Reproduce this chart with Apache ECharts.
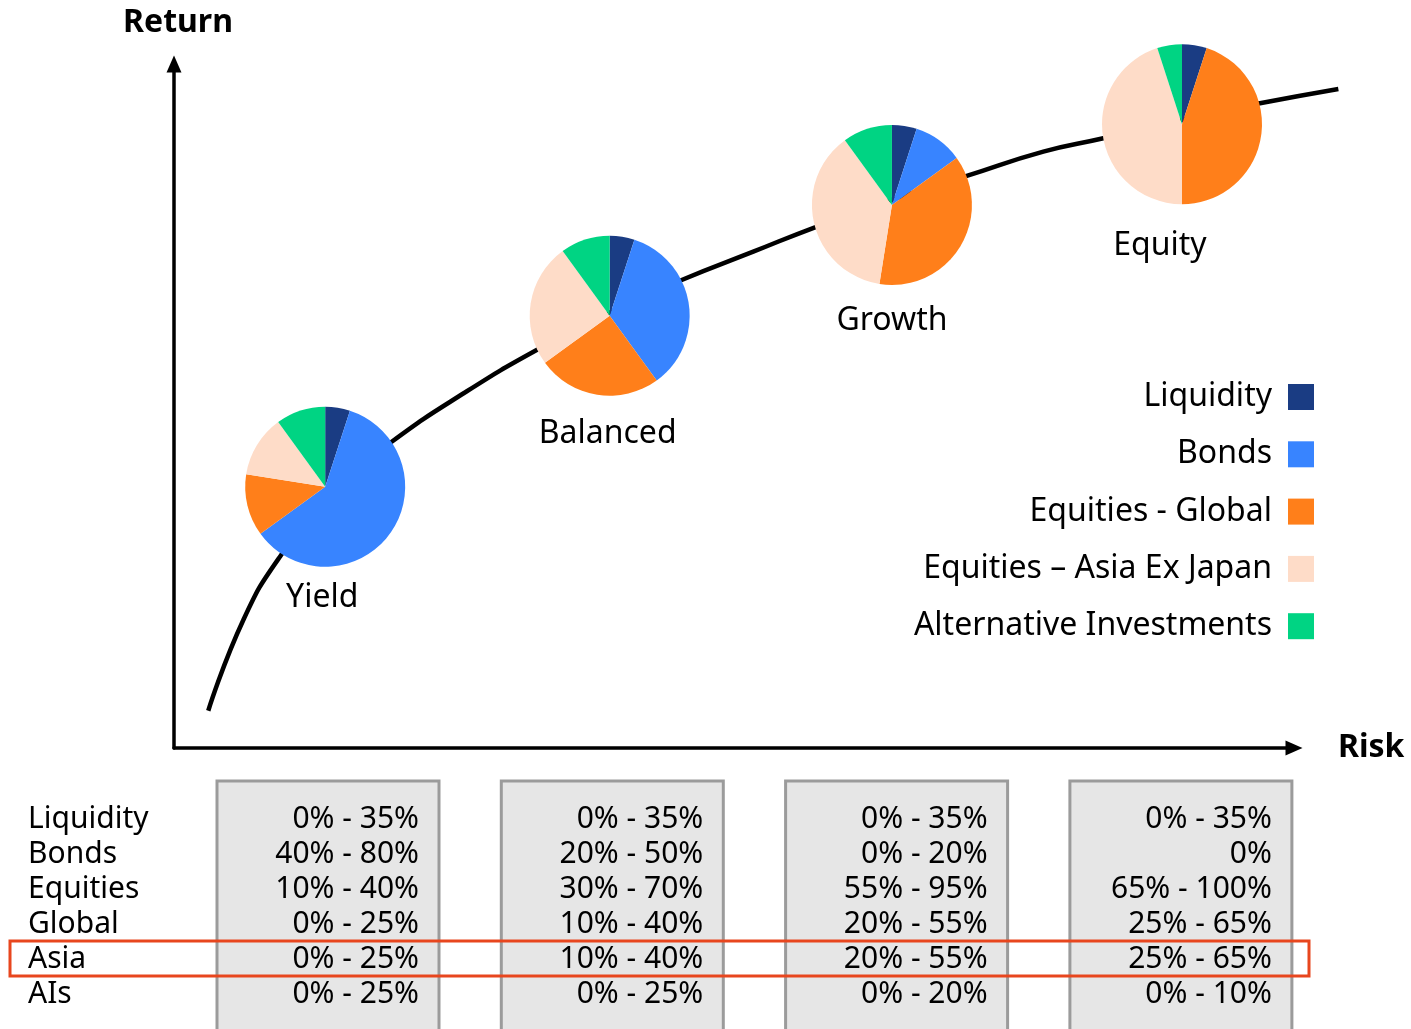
<!DOCTYPE html>
<html><head><meta charset="utf-8">
<script src="https://cdn.jsdelivr.net/npm/echarts@6/dist/echarts.min.js"></script>
<style>html,body{margin:0;padding:0;background:#fff}#c{width:1411px;height:1029px}</style>
</head><body><div id="c"></div>
<script>
// ---------- data ----------
const categories = ['Liquidity', 'Bonds', 'Equities - Global', 'Equities – Asia Ex Japan', 'Alternative Investments'];
const categoryColors = ['#1a3c83', '#3884ff', '#ff7f1a', '#fedcc8', '#00d483'];
const portfolios = ['Yield', 'Balanced', 'Growth', 'Equity'];
const yieldMix = [5, 60, 12.5, 12.5, 10];
const balancedMix = [5, 35, 25, 25, 10];
const growthMix = [5, 10, 37.5, 37.5, 10];
const equityMix = [5, 0, 45, 45, 5];
const portfolioRisk = [13.5, 38.9, 64.1, 90.0];
const portfolioReturn = [38.2, 63.2, 79.4, 91.2];
const curveRisk = [3.06, 6.19, 9.46, 14.46, 19.44, 25.9, 32.38, 38.84, 45.33, 51.72, 57.23, 64.02, 70.78, 77.62, 82.97, 90.0, 96.96, 103.96];
const curveReturn = [5.45, 18.71, 27.97, 38.17, 44.78, 51.9, 58.19, 63.60, 68.42, 72.56, 76.13, 80.12, 83.63, 87.18, 89.14, 91.89, 94.25, 96.35];
const rowLabels = ['Liquidity', 'Bonds', 'Equities', 'Global', 'Asia', 'AIs'];
const yieldRanges = ['0% - 35%', '40% - 80%', '10% - 40%', '0% - 25%', '0% - 25%', '0% - 25%'];
const balancedRanges = ['0% - 35%', '20% - 50%', '30% - 70%', '10% - 40%', '10% - 40%', '0% - 25%'];
const growthRanges = ['0% - 35%', '0% - 20%', '55% - 95%', '20% - 55%', '20% - 55%', '0% - 20%'];
const equityRanges = ['0% - 35%', '0%', '65% - 100%', '25% - 65%', '25% - 65%', '0% - 10%'];
const highlightRow = 'Asia';

// ---------- style ----------
const FONT = '"Noto Sans", "Open Sans", sans-serif';
const labelOffsets = [[-3, 111], [-2, 118], [0, 116], [-22, 122]];
const mixes = [yieldMix, balancedMix, growthMix, equityMix];
const ranges = [yieldRanges, balancedRanges, growthRanges, equityRanges];

const chart = echarts.init(document.getElementById('c'), null, { renderer: 'canvas' });

const axisLineStyle = { show: true, onZero: false, symbol: ['none', 'triangle'], symbolSize: [15, 17], lineStyle: { color: '#000', width: 3.5 } };
const hiddenAxis = { show: false, axisLine: { show: false }, axisTick: { show: false }, axisLabel: { show: false }, splitLine: { show: false } };

chart.setOption({
  animation: false,
  color: categoryColors,
  grid: [
    { left: 174, right: 117, top: 64, bottom: 281 },          // visible axes
    { left: 174, width: 1176, top: 64, bottom: 281 }           // data plane (same scale, wider to the right)
  ],
  xAxis: [
    {
      gridIndex: 0, type: 'value', min: 0, max: 100,
      name: 'Risk', nameLocation: 'end', nameGap: 44,
      nameTextStyle: { fontFamily: FONT, fontWeight: 'bold', fontSize: 32, color: '#000', verticalAlign: 'middle' },
      axisLine: axisLineStyle, axisTick: { show: false }, axisLabel: { show: false }, splitLine: { show: false }
    },
    Object.assign({ gridIndex: 1, type: 'value', min: 0, max: 105 }, hiddenAxis)
  ],
  yAxis: [
    {
      gridIndex: 0, type: 'value', min: 0, max: 100,
      name: 'Return', nameLocation: 'end', nameGap: 25,
      nameTextStyle: { fontFamily: FONT, fontWeight: 'bold', fontSize: 32, color: '#000', padding: [0, 0, 0, 8] },
      axisLine: axisLineStyle, axisTick: { show: false }, axisLabel: { show: false }, splitLine: { show: false }
    },
    Object.assign({ gridIndex: 1, type: 'value', min: 0, max: 100 }, hiddenAxis)
  ],
  series: [
    {
      type: 'line', name: 'curve', xAxisIndex: 1, yAxisIndex: 1,
      smooth: 0.5, clip: false, symbol: 'none', silent: true,
      lineStyle: { color: '#000', width: 4.5 },
      data: curveRisk.map((r, i) => [r, curveReturn[i]]),
      z: 1
    },
    {
      type: 'scatter', name: 'labels', xAxisIndex: 1, yAxisIndex: 1, symbolSize: 1, silent: true,
      itemStyle: { color: 'transparent', opacity: 1 },
      label: { show: true, position: 'inside', formatter: '{b}', fontFamily: FONT, fontSize: 32, color: '#000', opacity: 1 },
      data: portfolios.map((p, i) => ({ name: p, value: [portfolioRisk[i], portfolioReturn[i]], label: { offset: labelOffsets[i] } })),
      z: 5
    }
  ]
});

const centers = portfolioRisk.map((r, i) => chart.convertToPixel({ xAxisIndex: 1, yAxisIndex: 1 }, [r, portfolioReturn[i]]));

const pieSeries = portfolios.map((p, i) => ({
  type: 'pie', name: p, radius: 80, center: centers[i], startAngle: 90, clockwise: true,
  silent: true, label: { show: false }, labelLine: { show: false },
  itemStyle: { borderWidth: 0 },
  emphasis: { disabled: true },
  data: categories.map((c, k) => ({ name: c, value: mixes[i][k] })),
  z: 3
}));

// table graphics
const graphics = [];
const colLeft = 217, colStep = 284.3, colWidth = 222, boxTop = 781;
const rowTop = 819, rowStep = 35, tableFont = 30;
for (let i = 0; i < portfolios.length; i++) {
  const x0 = colLeft + i * colStep;
  graphics.push({ type: 'rect', shape: { x: x0, y: boxTop, width: colWidth, height: 300 },
    style: { fill: '#e6e6e6', stroke: '#9b9b9b', lineWidth: 3 }, silent: true, z: 1 });
  ranges[i].forEach((v, r) => {
    graphics.push({ type: 'text', x: x0 + colWidth - 20, y: rowTop + r * rowStep,
      style: { text: v, fill: '#000', font: tableFont + 'px ' + FONT, textAlign: 'right', textVerticalAlign: 'middle' }, silent: true, z: 2 });
  });
}
rowLabels.forEach((lab, r) => {
  graphics.push({ type: 'text', x: 28, y: rowTop + r * rowStep,
    style: { text: lab, fill: '#000', font: tableFont + 'px ' + FONT, textAlign: 'left', textVerticalAlign: 'middle' }, silent: true, z: 2 });
});
const hi = rowLabels.indexOf(highlightRow);
graphics.push({ type: 'rect', shape: { x: 10, y: rowTop + hi * rowStep - 18, width: 1299, height: 35 },
  style: { fill: 'none', stroke: '#e8461e', lineWidth: 3 }, silent: true, z: 3 });

chart.setOption({
  legend: {
    data: categories, orient: 'vertical', right: 97, top: 381, padding: 0,
    itemWidth: 26, itemHeight: 26, itemGap: 25.3, align: 'right', icon: 'rect', selectedMode: false,
    textStyle: { fontFamily: FONT, fontSize: 32, color: '#000', padding: [0, 11, 0, 0] }
  },
  series: [{}, {}].concat(pieSeries),
  graphic: graphics
});
</script>
</body></html>
